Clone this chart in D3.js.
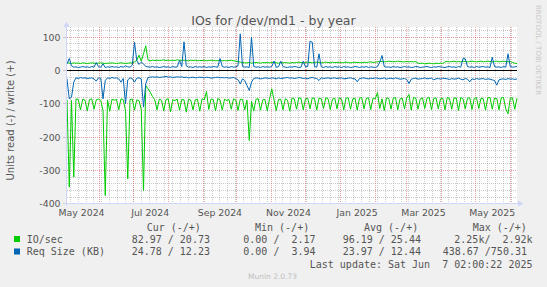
<!DOCTYPE html>
<html>
<head>
<meta charset="utf-8">
<script src="https://cdn.jsdelivr.net/npm/d3@7"></script>
<style>
body { margin: 0; background: #f0f0f0; }
svg { display: block; }
text { font-family: "DejaVu Sans", sans-serif; fill: #555; }
.mono { font-family: "DejaVu Sans Mono", monospace; font-size: 10px; white-space: pre; }
</style>
</head>
<body>
<div id="chart"></div>
<script>
// graph covers 400 days ending at last update, one value every 2 days
var endTime = Date.UTC(2025, 5, 7, 2, 0, 22);
var startTime = endTime - 400 * 86400000;
var stepDays = 2;

// IO/sec, read (drawn below zero)
var ioRead = [
    88, 350, 90, 320, 85, 87, 118, 86, 89, 121,
    87, 85, 116, 88, 86, 90, 120, 375, 88, 122,
    86, 89, 87, 118, 85, 88, 120, 325, 87, 86,
    119, 88, 90, 117, 360, 45, 55, 65, 78, 88,
    118, 86, 89, 121, 87, 85, 124, 88, 90, 86,
    119, 87, 88, 125, 86, 89, 118, 88, 86, 122,
    85, 88, 63, 117, 86, 87, 121, 84, 88, 119,
    86, 90, 87, 116, 85, 88, 120, 86, 87, 118,
    89, 210, 92, 122, 86, 85, 119, 88, 87, 121,
    86, 55, 88, 120, 87, 86, 118, 85, 89, 122,
    83, 85, 116, 82, 84, 118, 85, 83, 115, 82,
    84, 119, 83, 85, 114, 82, 84, 117, 86, 83,
    115, 82, 85, 118, 83, 82, 116, 85, 83, 119,
    83, 81, 115, 84, 82, 117, 83, 85, 66, 114,
    85, 120, 82, 84, 116, 83, 81, 118, 85, 83,
    115, 82, 72, 119, 81, 83, 116, 85, 82, 114,
    83, 81, 117, 84, 82, 115, 85, 83, 118, 81,
    84, 116, 82, 83, 120, 81, 85, 115, 83, 82,
    117, 84, 81, 114, 83, 85, 119, 82, 81, 116,
    83, 84, 118, 82, 81, 115, 130, 83, 82, 116,
    83
];

// IO/sec, write
var ioWrite = [
    24, 22, 21, 23, 22, 22, 21, 23, 22, 21,
    22, 23, 22, 21, 22, 23, 22, 21, 22, 22,
    23, 22, 21, 22, 23, 22, 21, 22, 23, 22,
    26, 30, 46, 28, 50, 74, 32, 29, 31, 30,
    31, 30, 31, 32, 30, 31, 30, 31, 30, 32,
    31, 30, 31, 30, 29, 31, 30, 31, 29, 30,
    30, 31, 29, 30, 31, 30, 29, 30, 31, 29,
    30, 29, 30, 31, 29, 28, 27, 25, 24, 23,
    23, 24, 22, 23, 24, 23, 22, 24, 23, 24,
    23, 24, 25, 23, 22, 24, 23, 24, 23, 22,
    24, 23, 24, 25, 24, 23, 24, 25, 24, 23,
    24, 25, 24, 23, 24, 25, 24, 23, 25, 24,
    24, 25, 23, 24, 25, 24, 23, 24, 25, 24,
    24, 23, 25, 24, 25, 26, 24, 25, 26, 27,
    27, 26, 27, 28, 27, 26, 27, 28, 27, 26,
    26, 27, 26, 27, 26, 27, 22, 21, 22, 20,
    21, 22, 21, 20, 22, 21, 22, 21, 26, 27,
    26, 27, 28, 26, 27, 26, 28, 27, 26, 27,
    28, 27, 26, 27, 28, 26, 27, 28, 27, 26,
    27, 28, 26, 27, 28, 27, 26, 27, 24, 22,
    21
];

// Req Size (KB), read (drawn below zero)
var reqRead = [
    25, 85, 80, 35, 22, 24, 21, 23, 22, 24,
    23, 22, 25, 32, 22, 23, 85, 30, 22, 24,
    21, 23, 22, 25, 35, 24, 100, 28, 22, 24,
    35, 23, 22, 25, 110, 40, 21, 20, 19, 20,
    19, 21, 20, 19, 18, 20, 19, 21, 20, 19,
    20, 19, 21, 20, 22, 21, 20, 22, 21, 20,
    21, 22, 20, 21, 23, 22, 21, 20, 22, 21,
    22, 21, 23, 22, 21, 24, 28, 40, 25, 30,
    45, 60, 35, 24, 22, 23, 25, 24, 22, 23,
    24, 22, 23, 25, 22, 24, 23, 22, 21, 23,
    22, 24, 23, 21, 22, 24, 23, 25, 22, 21,
    23, 24, 30, 22, 24, 23, 22, 24, 23, 22,
    24, 23, 22, 25, 24, 23, 22, 24, 25, 34,
    24, 23, 22, 24, 25, 23, 24, 22, 23, 25,
    24, 22, 26, 24, 23, 25, 22, 24, 26, 25,
    24, 27, 39, 26, 24, 23, 26, 25, 24, 22,
    25, 24, 23, 28, 25, 24, 26, 23, 24, 25,
    27, 24, 26, 25, 23, 26, 28, 24, 26, 34,
    25, 27, 24, 26, 25, 24, 27, 25, 26, 28,
    30, 44, 28, 26, 25, 27, 24, 26, 25, 27,
    25
];

// Req Size (KB), write
var reqWrite = [
    20, 36, 14, 10, 11, 9, 10, 12, 10, 11,
    9, 12, 10, 24, 11, 10, 20, 9, 11, 10,
    12, 10, 11, 9, 12, 10, 14, 11, 10, 16,
    85, 30, 18, 25, 20, 12, 11, 10, 12, 10,
    11, 9, 10, 12, 10, 11, 9, 12, 10, 11,
    30, 12, 86, 14, 10, 11, 9, 12, 10, 11,
    10, 12, 9, 11, 10, 12, 11, 10, 36, 12,
    10, 11, 9, 12, 10, 11, 14, 110, 12, 10,
    11, 9, 100, 12, 10, 11, 9, 12, 10, 11,
    10, 12, 28, 10, 11, 28, 12, 10, 9, 11,
    10, 12, 11, 9, 10, 28, 11, 12, 88, 85,
    12, 10, 50, 11, 9, 12, 10, 11, 9, 12,
    10, 11, 9, 12, 10, 11, 9, 10, 12, 11,
    9, 11, 10, 12, 9, 11, 10, 9, 12, 25,
    45, 12, 10, 11, 9, 12, 10, 11, 9, 10,
    12, 10, 11, 9, 10, 12, 11, 9, 10, 11,
    12, 10, 9, 11, 10, 12, 11, 10, 9, 11,
    12, 10, 11, 9, 12, 10, 36, 35, 12, 10,
    11, 9, 12, 10, 11, 12, 10, 11, 9, 40,
    12, 10, 11, 9, 12, 10, 50, 12, 10, 11,
    12
];

var yMajorTicks = [-400, -300, -200, -100, 0, 100];

var legendNames = ["IO/sec", "Req Size (KB)"];
var legendColors = ["#00cc00", "#0066b3"];
var legendHeads = ["Cur (-/+)", "Min (-/+)", "Avg (-/+)", "Max (-/+)"];
var curVals = ["82.97 / 20.73", "24.78 / 12.23"];
var minVals = ["0.00 /  2.17", "0.00 /  3.94"];
var avgVals = ["96.19 / 25.44", "23.97 / 12.44"];
var maxVals = ["2.25k/  2.92k", "438.67 /750.31"];
var lastUpdate = "Last update: Sat Jun  7 02:00:22 2025";

var W = 547, H = 287;
var margin = {left: 67, right: 30, top: 27, bottom: 84};

var svg = d3.select("#chart").append("svg")
    .attr("width", W)
    .attr("height", H);

svg.append("rect").attr("width", W).attr("height", H).attr("fill", "#f0f0f0");

var x = d3.scaleUtc()
    .domain([startTime, endTime])
    .range([margin.left, W - margin.right]);

var y = d3.scaleLinear()
    .domain([-400, 130])
    .range([203.83, 27.17]);

function snap(v) { return Math.floor(v) + 0.5; }

// canvas
svg.append("rect")
    .attr("x", margin.left).attr("y", 27)
    .attr("width", W - margin.right - margin.left).attr("height", 177)
    .attr("fill", "#fff");

var grid = svg.append("g");
var minorCol = "rgba(150,150,150,0.5)";
var majorCol = "rgba(222,79,79,0.55)";

// minor grid
d3.range(-380, 130, 20).filter(function(v) { return v % 100 !== 0; }).forEach(function(v) {
    grid.append("line")
        .attr("x1", margin.left).attr("x2", W - margin.right)
        .attr("y1", snap(y(v))).attr("y2", snap(y(v)))
        .attr("stroke", minorCol)
        .attr("stroke-dasharray", "1,1");
});
d3.utcMonday.range(startTime, endTime).forEach(function(t) {
    grid.append("line")
        .attr("x1", snap(x(t))).attr("x2", snap(x(t)))
        .attr("y1", 27).attr("y2", 204)
        .attr("stroke", minorCol)
        .attr("stroke-dasharray", "1,1");
});

// major grid
yMajorTicks.forEach(function(v) {
    grid.append("line")
        .attr("x1", margin.left).attr("x2", W - margin.right)
        .attr("y1", snap(y(v))).attr("y2", snap(y(v)))
        .attr("stroke", majorCol)
        .attr("stroke-dasharray", "1,1");
    grid.append("line")
        .attr("x1", margin.left - 4).attr("x2", margin.left)
        .attr("y1", snap(y(v))).attr("y2", snap(y(v)))
        .attr("stroke", "#c8c8d8");
});
d3.utcMonth.range(startTime, endTime).forEach(function(t) {
    grid.append("line")
        .attr("x1", snap(x(t))).attr("x2", snap(x(t)))
        .attr("y1", 27).attr("y2", 204)
        .attr("stroke", majorCol)
        .attr("stroke-dasharray", "1,1");
});

// y labels
svg.selectAll(".ylab")
    .data(yMajorTicks)
    .enter().append("text")
    .attr("class", "ylab")
    .attr("x", 60.5)
    .attr("y", function(d) { return y(d) + 3.5; })
    .attr("text-anchor", "end")
    .style("font-size", "9.33px")
    .text(function(d) { return d; });

// x labels, centred half a month after each second month start
var fmt = d3.utcFormat("%b %Y");
var labelMonths = d3.utcMonth.every(2).range(d3.utcMonth.floor(new Date(startTime)), endTime)
    .filter(function(t) { return +t + 15 * 86400000 >= startTime; });
svg.selectAll(".xlab")
    .data(labelMonths)
    .enter().append("text")
    .attr("class", "xlab")
    .attr("x", function(d) { return x(+d + 15 * 86400000); })
    .attr("y", 216)
    .attr("text-anchor", "middle")
    .style("font-size", "9.33px")
    .text(function(d) { return fmt(d); });

// zero line
svg.append("line")
    .attr("x1", margin.left).attr("x2", W - margin.right)
    .attr("y1", snap(y(0))).attr("y2", snap(y(0)))
    .attr("stroke", "#000");

function toPoints(arr, sign) {
    return arr.map(function(v, i) {
        return {t: startTime + i * stepDays * 86400000, v: sign * v};
    });
}

var line = d3.line()
    .x(function(d) { return x(d.t); })
    .y(function(d) { return y(d.v); });

var series = [
    {data: toPoints(ioRead, -1), color: legendColors[0]},
    {data: toPoints(ioWrite, 1), color: legendColors[0]},
    {data: toPoints(reqRead, -1), color: legendColors[1]},
    {data: toPoints(reqWrite, 1), color: legendColors[1]}
];

series.forEach(function(s) {
    svg.append("path")
        .datum(s.data)
        .attr("d", line)
        .attr("fill", "none")
        .attr("stroke", s.color)
        .attr("stroke-width", 1);
});

// axes and arrows
var axisCol = "#cfd6f8";
svg.append("line")
    .attr("x1", margin.left - 3).attr("x2", 520)
    .attr("y1", 203.5).attr("y2", 203.5)
    .attr("stroke", axisCol);
svg.append("line")
    .attr("x1", 66.5).attr("x2", 66.5)
    .attr("y1", 206).attr("y2", 26)
    .attr("stroke", axisCol);
svg.append("path")
    .attr("d", "M518,200.5L523.5,203.5L518,206.5Z")
    .attr("fill", axisCol);
svg.append("path")
    .attr("d", "M63.5,27L66.5,21.5L69.5,27Z")
    .attr("fill", axisCol);

// titles
svg.append("text")
    .attr("x", 273.5).attr("y", 24.5)
    .attr("text-anchor", "middle")
    .style("font-size", "12.5px")
    .text("IOs for /dev/md1 - by year");

svg.append("text")
    .attr("transform", "translate(13.5,120.5) rotate(-90)")
    .attr("text-anchor", "middle")
    .style("font-size", "10px")
    .text("Units read (-) / write (+)");

svg.append("text")
    .attr("transform", "translate(535.5,5) rotate(90)")
    .style("font-size", "7px")
    .style("fill", "#c8c8c8")
    .text("RRDTOOL / TOBI OETIKER");

// legend
var headX = [146.7, 255, 364, 472.7];
legendHeads.forEach(function(h, i) {
    svg.append("text").attr("class", "mono")
        .attr("x", headX[i]).attr("y", 230.5)
        .text(h);
});

var rowY = [242.5, 255];
legendNames.forEach(function(n, i) {
    svg.append("rect")
        .attr("x", 14).attr("y", rowY[i] - 6.5)
        .attr("width", 6).attr("height", 6)
        .attr("fill", legendColors[i]);
    svg.append("text").attr("class", "mono").attr("x", 26.7).attr("y", rowY[i]).text(n);
    svg.append("text").attr("class", "mono").attr("x", 131.7).attr("y", rowY[i]).text(curVals[i]);
    svg.append("text").attr("class", "mono").attr("x", 243.3).attr("y", rowY[i]).text(minVals[i]);
    svg.append("text").attr("class", "mono").attr("x", 342.7).attr("y", rowY[i]).text(avgVals[i]);
    svg.append("text").attr("class", "mono").attr("x", i === 0 ? 454.3 : 442.7).attr("y", rowY[i]).text(maxVals[i]);
});

svg.append("text").attr("class", "mono")
    .attr("x", 532.5).attr("y", 267.5)
    .attr("text-anchor", "end")
    .text(lastUpdate);

svg.append("text")
    .attr("x", 272.5).attr("y", 278.5)
    .attr("text-anchor", "middle")
    .style("font-size", "7.5px")
    .style("fill", "#c0c0c0")
    .text("Munin 2.0.73");
</script>
</body>
</html>
